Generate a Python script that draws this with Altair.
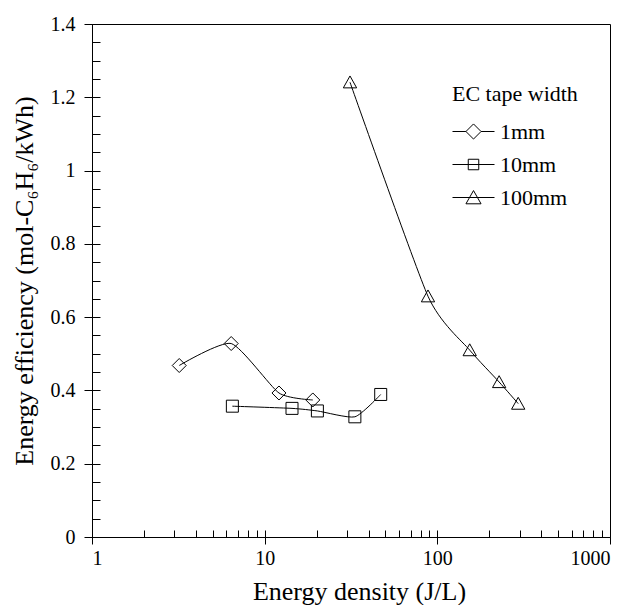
import altair as alt
import pandas as pd

# ---- data ----
series_names = ["1mm", "10mm", "100mm"]

x_1mm = [3.2, 6.4, 12.1, 19.0]
y_1mm = [0.468, 0.528, 0.393, 0.374]

x_10mm = [6.5, 14.4, 20.2, 33.3, 47.0]
y_10mm = [0.357, 0.351, 0.344, 0.328, 0.389]

x_100mm = [31.2, 88.3, 154.0, 228.0, 294.0]
y_100mm = [1.241, 0.657, 0.510, 0.423, 0.364]

x_major = [1, 10, 100, 1000]
x_minor = [1, 2, 3, 4, 5, 6, 7, 8, 9, 10, 20, 30, 40, 50, 60, 70, 80, 90,
           100, 200, 300, 400, 500, 600, 700, 800, 900, 1000]
y_major = [0, 0.2, 0.4, 0.6, 0.8, 1.0, 1.2, 1.4]
y_minor = [0, 0.05, 0.1, 0.15, 0.2, 0.25, 0.3, 0.35, 0.4, 0.45, 0.5, 0.55,
           0.6, 0.65, 0.7, 0.75, 0.8, 0.85, 0.9, 0.95, 1.0, 1.05, 1.1, 1.15,
           1.2, 1.25, 1.3, 1.35, 1.4]

rows = []
for name, xs, ys in [("1mm", x_1mm, y_1mm), ("10mm", x_10mm, y_10mm), ("100mm", x_100mm, y_100mm)]:
    for xv, yv in zip(xs, ys):
        rows.append({"series": name, "x": xv, "y": yv})
df = pd.DataFrame(rows)

FONT = "Liberation Serif"

# marker shapes (unit paths scaled by size)
marker_paths = [
    "M-1,0L0,-1L1,0L0,1Z",
    "M-0.857,-0.857H0.857V0.857H-0.857Z",
    "M-0.95,0.8L0,-0.9L0.95,0.8Z",
]
# legend symbols: line + marker
legend_paths = [
    "M-1,0L-0.36,0M0.36,0L1,0M-0.36,0L0,-0.36L0.36,0L0,0.36Z",
    "M-1,0L1,0M-0.25,-0.25H0.25V0.25H-0.25Z",
    "M-1,0L1,0M-0.36,0.3L0,-0.33L0.36,0.3Z",
]

xscale = alt.Scale(type="log", domain=[1, 1000])
yscale = alt.Scale(domain=[0, 1.4], nice=False, zero=True)

base = alt.Chart(df)

main_x_axis = alt.Axis(values=x_major, format="d", title="Energy density (J/L)",
                       tickSize=7, labelPadding=4, titlePadding=10, titleX=267,
                       grid=False)
main_y_axis = alt.Axis(values=y_major, format="~g",
                       title="Energy efficiency (mol-C₆H₆/kWh)",
                       tickSize=8, labelPadding=9, titlePadding=13, grid=False)

lines = base.mark_line(color="black", strokeWidth=1, interpolate="cardinal",
                       tension=0.4).encode(
    x=alt.X("x:Q", scale=xscale, axis=main_x_axis),
    y=alt.Y("y:Q", scale=yscale, axis=main_y_axis),
    detail="series:N",
)

minor = base.mark_point(opacity=0).encode(
    x=alt.X("x:Q", scale=xscale,
            axis=alt.Axis(orient="bottom", values=x_minor, labels=False, domain=False,
                          tickSize=7, offset=-7, title=None, grid=False)),
    y=alt.Y("y:Q", scale=yscale,
            axis=alt.Axis(orient="left", values=y_minor, labels=False, domain=False,
                          tickSize=8, offset=-8, title=None, grid=False)),
)

points = base.mark_point(filled=False, stroke="black", strokeWidth=1,
                         opacity=1, size=196).encode(
    x=alt.X("x:Q", scale=xscale, axis=None),
    y=alt.Y("y:Q", scale=yscale, axis=None),
    shape=alt.Shape("series:N", scale=alt.Scale(domain=series_names, range=marker_paths),
                    legend=None),
)

legend_layer = base.mark_point(filled=False, stroke="black", strokeWidth=1, opacity=1).encode(
    x=alt.X("x:Q", scale=xscale, axis=None),
    y=alt.Y("y:Q", scale=yscale, axis=None),
    shape=alt.Shape("series:N", scale=alt.Scale(domain=series_names, range=legend_paths),
                    legend=alt.Legend(title="EC tape width", orient="none",
                                      legendX=360, legendY=60, padding=0,
                                      titleFont=FONT, titleFontSize=22,
                                      titleFontWeight="normal", titleColor="black",
                                      titlePadding=4,
                                      labelFont=FONT, labelFontSize=22, labelColor="black",
                                      labelOffset=5, rowPadding=0,
                                      symbolSize=1764, symbolStrokeWidth=1,
                                      symbolStrokeColor="black",
                                      symbolFillColor="transparent")),
).transform_filter("false")

chart = alt.layer(lines, minor, points, legend_layer).resolve_axis(
    x="independent", y="independent"
).resolve_scale(shape="independent").properties(
    width=518, height=513,
    autosize=alt.AutoSizeParams(type="none"),
    padding={"left": 84, "top": 16, "right": 13, "bottom": 72},
).configure_view(
    stroke="black", strokeWidth=1
).configure_axis(
    domainColor="black", tickColor="black", labelColor="black", titleColor="black",
    labelFont=FONT, titleFont=FONT, labelFontSize=20, titleFontSize=26,
    titleFontWeight="normal", domainWidth=1, tickWidth=1
)

chart.save("out.html", embed_options={"renderer": "svg", "actions": False})
